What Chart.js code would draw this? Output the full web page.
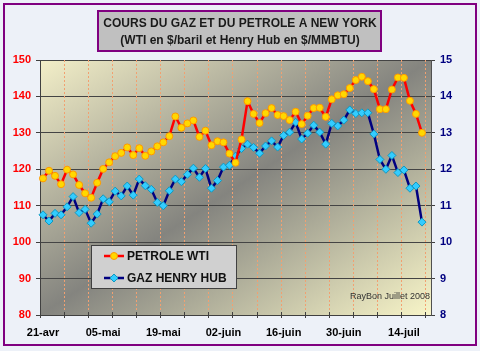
<!DOCTYPE html>
<html>
<head>
<meta charset="utf-8">
<script src="https://cdn.jsdelivr.net/npm/chart.js@4.4.1/dist/chart.umd.min.js"></script>
<style>
  html, body { margin: 0; padding: 0; background: #edf1f8; }
  #wrap { width: 480px; height: 351px; }
</style>
</head>
<body>
<div id="wrap"><canvas id="c" width="480" height="351"></canvas></div>
<script>
// jours ouvrés du 21-avr au 18-juil 2008
const dates = [
  '21-avr','22-avr','23-avr','24-avr','25-avr',
  '28-avr','29-avr','30-avr','01-mai','02-mai',
  '05-mai','06-mai','07-mai','08-mai','09-mai',
  '12-mai','13-mai','14-mai','15-mai','16-mai',
  '19-mai','20-mai','21-mai','22-mai','23-mai',
  '26-mai','27-mai','28-mai','29-mai','30-mai',
  '02-juin','03-juin','04-juin','05-juin','06-juin',
  '09-juin','10-juin','11-juin','12-juin','13-juin',
  '16-juin','17-juin','18-juin','19-juin','20-juin',
  '23-juin','24-juin','25-juin','26-juin','27-juin',
  '30-juin','01-juil','02-juil','03-juil','04-juil',
  '07-juil','08-juil','09-juil','10-juil','11-juil',
  '14-juil','15-juil','16-juil','17-juil','18-juil'
];
const shownLabels = ['21-avr','05-mai','19-mai','02-juin','16-juin','30-juin','14-juil'];

// WTI en $/baril (axe gauche)
const wti = [
  117.5,119.6,118.2,115.9,119.9,118.6,115.7,113.4,112.2,116.3,
  120.1,121.9,123.6,124.5,126.0,123.9,125.8,123.7,124.9,126.3,
  127.4,129.1,134.5,131.4,132.6,133.4,128.9,130.6,126.6,127.7,
  127.4,124.3,121.8,128.2,138.7,135.2,132.7,135.4,136.8,134.9,
  134.6,133.5,135.8,132.4,134.7,136.8,136.9,134.4,139.2,140.3,
  140.6,142.3,144.5,145.4,144.2,142.0,136.5,136.5,141.9,145.2,
  145.1,138.8,135.2,130.0,null
];
// Henry Hub en $/MMBTU (axe droit)
const henryHub = [
  10.75,10.58,10.79,10.75,10.97,11.25,10.81,10.90,10.52,10.77,
  11.19,11.11,11.40,11.27,11.54,11.29,11.73,11.55,11.45,11.09,
  11.00,11.41,11.73,11.66,11.86,12.03,11.78,12.02,11.48,11.69,
  12.06,12.11,12.36,12.57,12.69,12.60,12.44,12.64,12.78,12.61,
  12.93,13.02,13.29,12.83,12.99,13.21,13.02,12.69,13.26,13.19,
  13.35,13.63,13.53,13.55,13.55,12.97,12.27,12.00,12.38,11.91,
  11.98,11.48,11.54,10.55,null
];

const FONT = '"Liberation Sans", Arial, sans-serif';

const deco = {
  id: 'deco',
  beforeDraw(chart) {
    const { ctx, chartArea: a } = chart;
    ctx.save();
    ctx.fillStyle = '#edf1f8';
    ctx.fillRect(0, 0, chart.width, chart.height);
    // dégradé diagonal : clair aux coins HG/BD, gris au centre
    const w = a.right - a.left, h = a.bottom - a.top;
    const cx = (a.left + a.right) / 2, cy = (a.top + a.bottom) / 2;
    const k = w * h / (w * w + h * h);
    const g = ctx.createLinearGradient(cx - h * k, cy - w * k, cx + h * k, cy + w * k);
    g.addColorStop(0, '#f3efc8');
    g.addColorStop(0.5, '#84847f');
    g.addColorStop(1, '#f8f5c8');
    ctx.fillStyle = g;
    ctx.fillRect(a.left, a.top, w, h);
    ctx.restore();
  },
  beforeDatasetsDraw(chart) {
    const { ctx, chartArea: a, scales: { x } } = chart;
    const half = (x.getPixelForValue(1) - x.getPixelForValue(0)) / 2;
    ctx.save();
    ctx.strokeStyle = '#f2a070';
    ctx.lineWidth = 1;
    ctx.setLineDash([2, 2]);
    for (let i = 4; i < dates.length; i += 4) {
      const px = Math.round(x.getPixelForValue(i) - half) + 0.5;
      ctx.beginPath();
      ctx.moveTo(px, a.top);
      ctx.lineTo(px, a.bottom);
      ctx.stroke();
    }
    ctx.setLineDash([]);
    ctx.strokeStyle = '#404040';
    for (let i = 0; i < dates.length; i += 4) {
      const px = Math.round(x.getPixelForValue(i) - half) + 0.5;
      ctx.beginPath();
      ctx.moveTo(px, a.bottom - 3);
      ctx.lineTo(px, a.bottom + 3);
      ctx.stroke();
    }
    ctx.restore();
  },
  afterDatasetsDraw(chart) {
    const { ctx } = chart;
    const ds = chart.data.datasets;
    ctx.save();
    // légende
    ctx.fillStyle = '#d0d0d0';
    ctx.fillRect(91, 245, 146, 44);
    ctx.strokeStyle = '#404040';
    ctx.lineWidth = 1;
    ctx.strokeRect(91.5, 245.5, 145, 43);
    const rows = [[ds[0], 256], [ds[1], 278]];
    rows.forEach(([d, y]) => {
      ctx.strokeStyle = d.borderColor;
      ctx.lineWidth = 2.5;
      ctx.beginPath();
      ctx.moveTo(104, y);
      ctx.lineTo(124, y);
      ctx.stroke();
      ctx.fillStyle = d.pointBackgroundColor;
      ctx.strokeStyle = d.pointBorderColor;
      ctx.lineWidth = 1;
      ctx.beginPath();
      if (d.pointStyle === 'rectRot') {
        ctx.moveTo(114, y - 4); ctx.lineTo(118, y); ctx.lineTo(114, y + 4); ctx.lineTo(110, y); ctx.closePath();
      } else {
        ctx.arc(114, y, 3.5, 0, Math.PI * 2);
      }
      ctx.fill();
      ctx.stroke();
      ctx.fillStyle = '#111';
      ctx.font = 'bold 12px ' + FONT;
      ctx.textAlign = 'left';
      ctx.textBaseline = 'middle';
      ctx.fillText(d.label, 127, y + 0.5);
    });
    ctx.restore();
  },
  afterDraw(chart) {
    const { ctx } = chart;
    ctx.save();
    // signature
    ctx.fillStyle = '#333';
    ctx.font = '9px ' + FONT;
    ctx.textAlign = 'left';
    ctx.textBaseline = 'middle';
    ctx.fillText('RayBon Juillet 2008', 350, 297);
    // titre
    ctx.fillStyle = '#c0c0c0';
    ctx.fillRect(97, 10, 285, 42);
    ctx.strokeStyle = '#800080';
    ctx.lineWidth = 2;
    ctx.strokeRect(98, 11, 283, 40);
    ctx.fillStyle = '#1a1a1a';
    ctx.font = 'bold 12px ' + FONT;
    ctx.textAlign = 'center';
    ctx.fillText('COURS DU GAZ ET DU PETROLE A NEW YORK', 240, 24);
    ctx.fillText('(WTI en $/baril et Henry Hub en $/MMBTU)', 240, 41);
    // cadre extérieur
    ctx.strokeStyle = '#800080';
    ctx.lineWidth = 2;
    ctx.strokeRect(4, 4, 472, 341);
    ctx.restore();
  }
};

new Chart(document.getElementById('c'), {
  type: 'line',
  data: {
    labels: dates,
    datasets: [
      {
        label: 'PETROLE WTI',
        data: wti,
        yAxisID: 'y',
        borderColor: '#ff0000',
        borderWidth: 2.5,
        pointStyle: 'circle',
        pointRadius: 3.5,
        pointBackgroundColor: '#ffd800',
        pointBorderColor: '#ff9900',
        pointBorderWidth: 1,
        tension: 0
      },
      {
        label: 'GAZ HENRY HUB',
        data: henryHub,
        yAxisID: 'y1',
        borderColor: '#000080',
        borderWidth: 2.5,
        pointStyle: 'rectRot',
        pointRadius: 4,
        pointBackgroundColor: '#33ccff',
        pointBorderColor: '#1099c0',
        pointBorderWidth: 1,
        tension: 0
      }
    ]
  },
  options: {
    responsive: false,
    animation: false,
    layout: { padding: { top: 60, left: 0, right: 0, bottom: 0 } },
    plugins: { legend: { display: false }, title: { display: false }, tooltip: { enabled: false } },
    scales: {
      x: {
        offset: true,
        afterFit(s) { s.height = 36; },
        grid: { display: false },
        border: { display: true, color: '#404040', width: 1 },
        ticks: {
          autoSkip: false,
          maxRotation: 0,
          padding: 3,
          color: '#000',
          font: { family: FONT, size: 11, weight: 'bold' },
          callback(v, i) { const l = dates[i]; return shownLabels.includes(l) ? l : ''; }
        }
      },
      y: {
        position: 'left',
        min: 80, max: 150,
        afterFit(s) { s.width = 40; },
        grid: { color: '#444', lineWidth: 1, tickLength: 4, tickColor: '#404040' },
        border: { color: '#404040', width: 1 },
        ticks: { stepSize: 10, padding: 5, color: '#ff0000', font: { family: FONT, size: 11, weight: 'bold' } }
      },
      y1: {
        position: 'right',
        min: 8, max: 15,
        afterFit(s) { s.width = 49; },
        grid: { drawOnChartArea: false, tickLength: 4, tickColor: '#404040' },
        border: { color: '#505050', width: 1 },
        ticks: { stepSize: 1, padding: 5, color: '#000080', font: { family: FONT, size: 11, weight: 'bold' } }
      }
    }
  },
  plugins: [deco]
});
</script>
</body>
</html>
